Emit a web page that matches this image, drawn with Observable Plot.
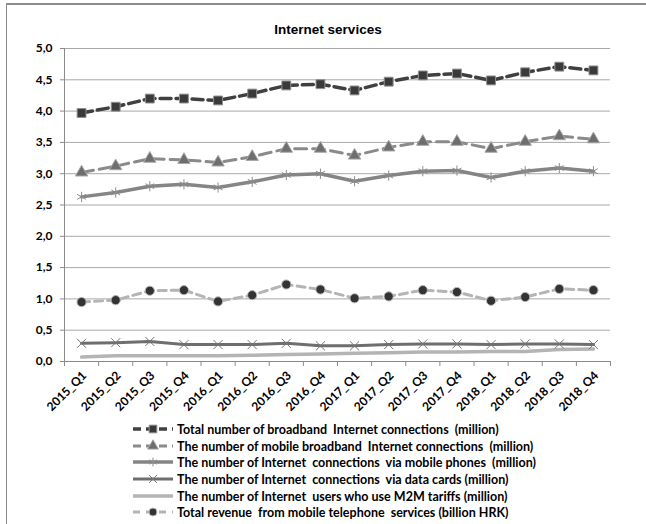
<!DOCTYPE html>
<html>
<head>
<meta charset="utf-8">
<script src="https://cdn.jsdelivr.net/npm/d3@7"></script>
<script src="https://cdn.jsdelivr.net/npm/@observablehq/plot@0.6"></script>
<style>
  html, body { margin: 0; padding: 0; background: #fff; overflow: hidden; }
  #wrap { position: relative; width: 646px; height: 524px; overflow: hidden; background: #fff; }
  #frame { position: absolute; left: 6px; top: 3px; width: 700px; height: 600px; border-left: 1px solid #8c8c8c; border-top: 2px solid #8c8c8c; }
  #title { position: absolute; left: 0; width: 656px; top: 22px; text-align: center; font-family: "Liberation Sans", Arial, sans-serif; font-weight: bold; font-size: 13.5px; color: #000; }
  #chart { position: absolute; left: 0; top: 0; }
  #legend { position: absolute; left: 0; top: 420px; }
</style>
</head>
<body>
<div id="wrap">
  <div id="frame"></div>
  <div id="chart"></div>
  <div id="title">Internet services</div>
  <div id="legend"></div>
</div>
<script>
const quarters = ["2015_Q1","2015_Q2","2015_Q3","2015_Q4","2016_Q1","2016_Q2","2016_Q3","2016_Q4",
                  "2017_Q1","2017_Q2","2017_Q3","2017_Q4","2018_Q1","2018_Q2","2018_Q3","2018_Q4"];
const totalBroadband = [3.97,4.07,4.20,4.20,4.17,4.28,4.41,4.43,4.33,4.47,4.57,4.60,4.49,4.62,4.71,4.65];
const mobileBroadband = [3.02,3.12,3.24,3.22,3.18,3.27,3.40,3.40,3.29,3.42,3.51,3.51,3.40,3.51,3.60,3.55];
const viaMobilePhones = [2.63,2.70,2.80,2.83,2.78,2.87,2.98,3.00,2.88,2.97,3.04,3.05,2.94,3.04,3.09,3.04];
const viaDataCards = [0.29,0.30,0.32,0.27,0.27,0.27,0.29,0.25,0.25,0.27,0.28,0.28,0.27,0.28,0.28,0.27];
const m2mUsers = [0.07,0.09,0.09,0.09,0.09,0.10,0.11,0.12,0.13,0.14,0.15,0.15,0.16,0.16,0.19,0.20];
const mobileRevenue = [0.95,0.98,1.13,1.14,0.96,1.06,1.23,1.15,1.01,1.04,1.14,1.11,0.97,1.03,1.16,1.14];
const seriesNames = [
  "Total number of broadband  Internet connections  (million)",
  "The number of mobile broadband  Internet connections  (million)",
  "The number of Internet  connections  via mobile phones  (million)",
  "The number of Internet  connections  via data cards (million)",
  "The number of Internet  users who use M2M tariffs (million)",
  "Total revenue  from mobile telephone  services (billion HRK)"
];
const yTicks = [0,0.5,1,1.5,2,2.5,3,3.5,4,4.5,5];

const styles = [
  {values: totalBroadband, stroke: "#404040", width: 3.5, dash: "11,5", symbol: "square", r: 5, fill: "#3a3a3a", mstroke: "#8f8f8f", msw: 1},
  {values: mobileBroadband, stroke: "#8a8a8a", width: 3, dash: "12,6", symbol: "triangle", r: 4.6, fill: "#6e6e6e", mstroke: "#a8a8a8", msw: 1},
  {values: viaMobilePhones, stroke: "#858585", width: 3.5, dash: null, symbol: "asterisk", r: 4.8, fill: "none", mstroke: "#8c8c8c", msw: 1},
  {values: viaDataCards, stroke: "#6e6e6e", width: 3, dash: null, symbol: "times", r: 4.2, fill: "none", mstroke: "#777", msw: 1},
  {values: m2mUsers, stroke: "#b4b4b4", width: 3.5, dash: null, symbol: null},
  {values: mobileRevenue, stroke: "#b4b4b4", width: 3, dash: "8,5", symbol: "circle", r: 4.6, fill: "#333", mstroke: "#b8b8b8", msw: 1}
];

const idx = d3.range(quarters.length);
const fmt = d => d.toFixed(1).replace(".", ",");

const marks = [
  Plot.gridY(yTicks, {stroke: "#a8a8a8", strokeOpacity: 1}),
  Plot.ruleX([-0.5], {y1: 0, y2: 5, stroke: "#8a8a8a"}),
  Plot.ruleY([0], {stroke: "#8a8a8a"}),
  Plot.axisY({ticks: yTicks, tickFormat: fmt, tickSize: 4, tickPadding: 8, stroke: "#8a8a8a", fontWeight: "bold", fontSize: 12}),
  Plot.axisX({ticks: d3.range(quarters.length + 1).map(i => i - 0.5), tickFormat: () => "", tickSize: 5, stroke: "#8a8a8a"}),
  Plot.axisX({ticks: idx, tickFormat: i => quarters[i], tickRotate: -45, tickSize: 0, tickPadding: 10, dx: 3, dy: 2, fontWeight: "bold", fontSize: 12})
];
for (const s of styles) {
  marks.push(Plot.line(idx, {x: i => i, y: i => s.values[i], stroke: s.stroke, strokeWidth: s.width, strokeDasharray: s.dash || undefined, strokeLinejoin: "round"}));
}
for (const s of styles) {
  if (!s.symbol) continue;
  marks.push(Plot.dot(idx, {x: i => i, y: i => s.values[i], symbol: () => s.symbol, r: s.r, fill: s.fill, stroke: s.mstroke, strokeWidth: s.msw}));
}

const chart = Plot.plot({
  width: 646,
  height: 420,
  marginTop: 48,
  marginBottom: 59,
  marginLeft: 64,
  marginRight: 36,
  style: {fontFamily: "Lato, 'Liberation Sans', sans-serif", color: "#000", background: "transparent", overflow: "visible"},
  x: {domain: [-0.5, quarters.length - 0.5], axis: null},
  y: {domain: [0, 5], axis: null},
  symbol: {type: "identity"},
  marks
});
document.getElementById("chart").appendChild(chart);

// Legend
const lg = d3.select("#legend").append("svg").attr("width", 646).attr("height", 104);
const rowY = [9, 26, 42, 59, 76, 92];
const symMap = {square: d3.symbolSquare, triangle: d3.symbolTriangle, asterisk: d3.symbolAsterisk, times: d3.symbolTimes, circle: d3.symbolCircle};
styles.forEach((s, k) => {
  const g = lg.append("g").attr("transform", `translate(0,${rowY[k]})`);
  g.append("line").attr("x1", 133).attr("x2", 173).attr("y1", 0).attr("y2", 0)
    .attr("stroke", s.stroke).attr("stroke-width", s.width)
    .attr("stroke-dasharray", s.dash ? (k === 5 ? "7,6" : "8,5") : null);
  if (s.symbol) {
    g.append("path").attr("transform", "translate(153,0)")
      .attr("d", d3.symbol(symMap[s.symbol], Math.PI * s.r * s.r * 0.75)())
      .attr("fill", s.fill).attr("stroke", s.mstroke).attr("stroke-width", s.msw);
  }
  g.append("text").attr("x", 177).attr("y", 4.5).attr("font-family", "Lato, 'Liberation Sans', sans-serif")
    .attr("font-weight", "bold").attr("font-size", 12.5).attr("fill", "#000")
    .style("white-space", "pre")
    .text(seriesNames[k]);
});
</script>
</body>
</html>
